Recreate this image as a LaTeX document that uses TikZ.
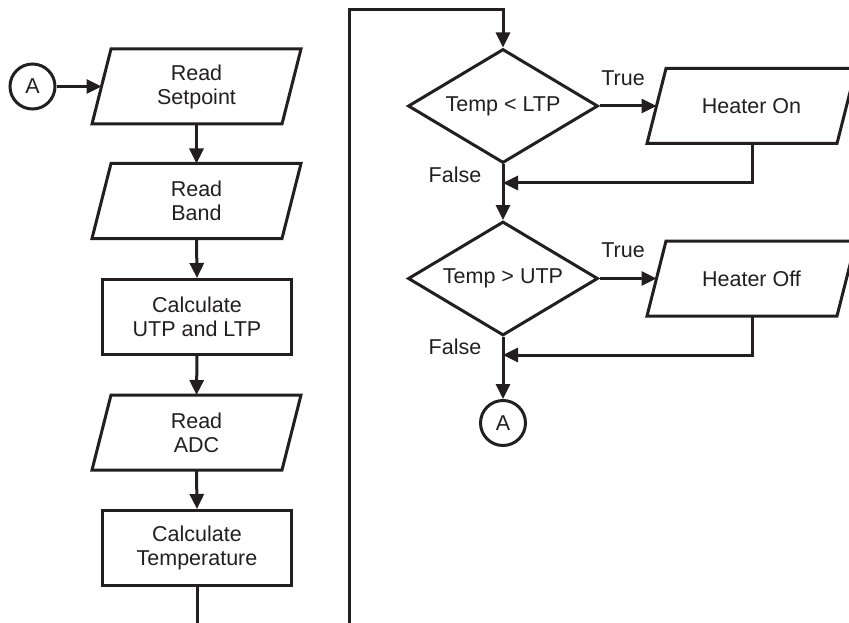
\documentclass[tikz,border=0pt]{standalone}
\usepackage{fontspec}
\setmainfont{Liberation Sans}
\usetikzlibrary{arrows.meta,shapes.geometric}
\definecolor{ink}{RGB}{35,31,32}
\newcommand\txt{\fontsize{21.5}{24}\selectfont}
\newcommand\paraoutline[1]{\draw[ln] ([xshift=9.5pt]#1.north west) -- ([xshift=9.5pt]#1.north east) -- ([xshift=-9.5pt]#1.south east) -- ([xshift=-9.5pt]#1.south west) -- cycle;}
\begin{document}
\begin{tikzpicture}[x=1pt,y=-1pt,
  ln/.style={line width=3pt, draw=ink, line join=miter},
  arr/.style={ln, -{Triangle[length=15pt,width=14pt]}},
  io/.style={minimum width=190pt, minimum height=75pt, inner sep=0pt, outer sep=0pt, align=center, font=\txt, text=ink},
  proc/.style={rectangle, ln, minimum width=189pt, minimum height=75pt, inner sep=0pt, align=center, font=\txt, text=ink},
  dec/.style={diamond, ln, minimum width=190pt, minimum height=114pt, inner sep=0pt, aspect=1.66, font=\txt, text=ink},
  conn/.style={circle, ln, minimum size=45pt, inner sep=0pt, font=\txt, text=ink},
  lbl/.style={font=\txt, text=ink, inner sep=0pt}]
\useasboundingbox (0,0) rectangle (849,623);
\fill[white] (0,0) rectangle (849,623);

% left column
\node[conn] (ca) at (32.5,86.5) {A};
\node[io] (rsp) at (196.5,86.5) {Read\\Setpoint};
\paraoutline{rsp}
\node[io] (rb) at (196.5,201) {Read\\Band};
\paraoutline{rb}
\node[proc] (cu) at (197,317) {Calculate\\UTP and LTP};
\node[io] (ra) at (196.5,432.5) {Read\\ADC};
\paraoutline{ra}
\node[proc] (ct) at (197,548) {Calculate\\Temperature};
\coordinate (e1) at (197,623);

\draw[arr] (ca) -- (rsp.west);
\draw[arr] (rsp.south) -- (rb.north);
\draw[arr] (rb.south) -- (cu.north);
\draw[arr] (cu.south) -- (ra.north);
\draw[arr] (ra.south) -- (ct.north);
\draw[ln] (ct.south) -- (e1);

% right column
\coordinate (e2) at (349,623);
\coordinate (top) at (503,10);
\node[dec] (d1) at (503,106) {Temp < LTP};
\node[io] (hon) at (751.5,106) {Heater On};
\paraoutline{hon}
\coordinate (j1) at (503,183);
\node[dec] (d2) at (503,278.5) {Temp > UTP};
\node[io] (hoff) at (751.5,278.5) {Heater Off};
\paraoutline{hoff}
\coordinate (j2) at (503,355);
\node[conn] (cb) at (503,423) {A};

\draw[arr] (e2) |- (top) -- (d1.north);
\draw[arr] (d1.east) -- (hon.west);
\draw[arr] ([xshift=0.5pt]hon.south) |- (j1);
\draw[arr] (d1.south) -- (d2.north);
\draw[arr] (d2.east) -- (hoff.west);
\draw[arr] ([xshift=0.5pt]hoff.south) |- (j2);
\draw[arr] (d2.south) -- (cb.north);

\node[lbl] at (623,78) {True};
\node[lbl] at (455,175) {False};
\node[lbl] at (623,250) {True};
\node[lbl] at (455,347) {False};
\end{tikzpicture}
\end{document}
